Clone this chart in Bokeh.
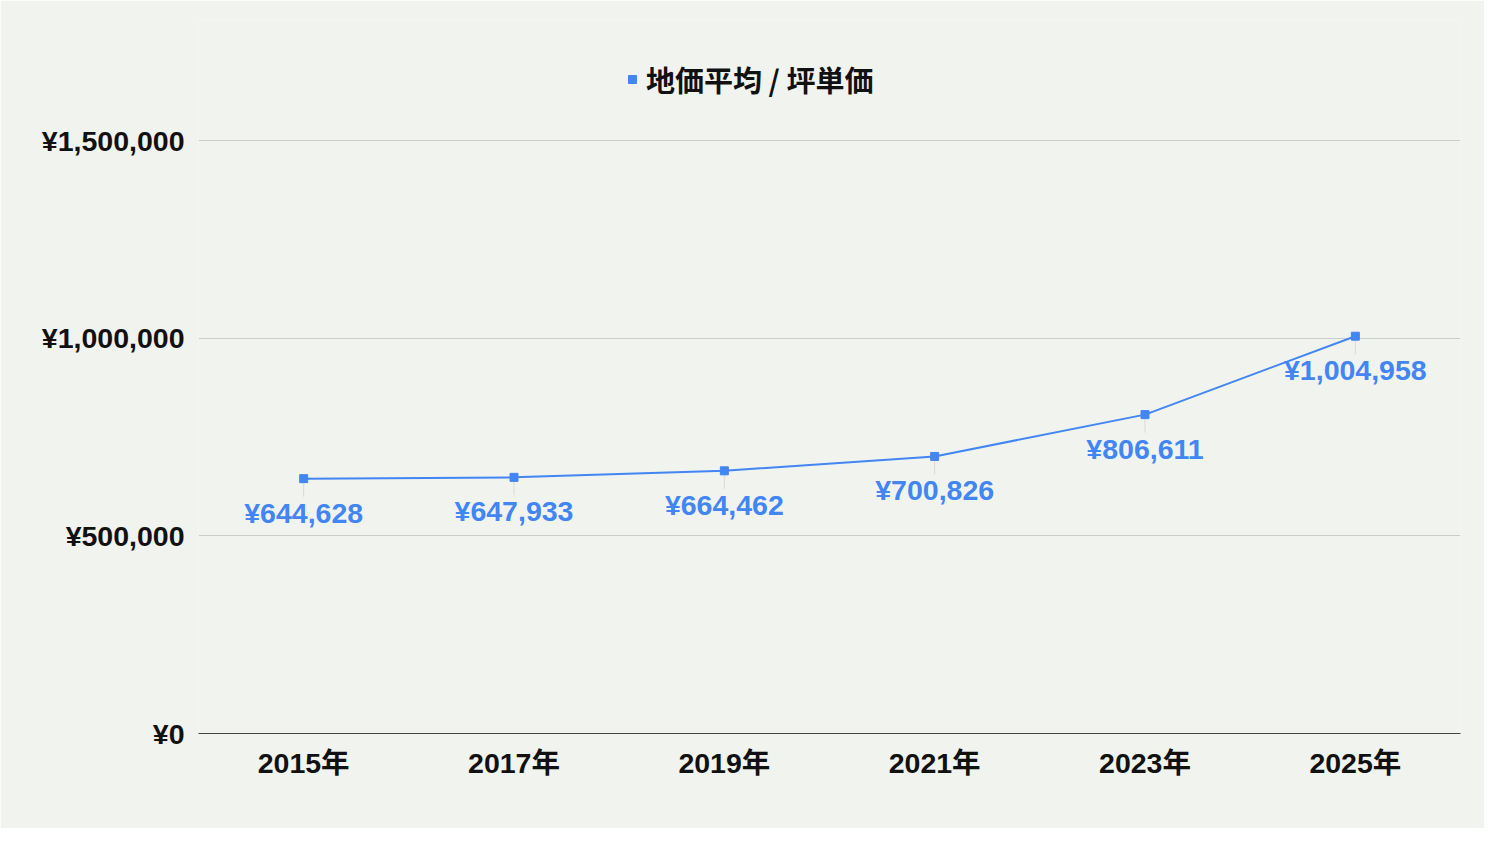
import math
from bokeh.plotting import figure
from bokeh.models import (ColumnDataSource, FactorRange, Range1d, FixedTicker,
                          Legend, LegendItem)
from bokeh.core.properties import value
from bokeh.embed import file_html
from bokeh.resources import INLINE

years = ["2015年", "2017年", "2019年", "2021年", "2023年", "2025年"]
prices = [644628, 647933, 664462, 700826, 806611, 1004958]
y_ticks = [0, 500000, 1000000, 1500000]
series_name = "地価平均 / 坪単価"

BG = "#F1F3EE"
BLUE = "#4285F4"
FONT = "'Liberation Sans', 'Noto Sans CJK JP'"

src = ColumnDataSource(dict(
    x=years,
    y=prices,
    label=[f"¥{v:,}" for v in prices],
))

# the frame reaches up to the legend row so the legend is not clipped;
# ¥1,500,000 still sits 120px below the frame top
y_top = 1500000 * 713 / 593

p = figure(width=1484, height=828, output_backend="svg", toolbar_location=None,
           x_range=FactorRange(*years), y_range=Range1d(0, y_top),
           min_border_left=198, min_border_right=24,
           min_border_top=20, min_border_bottom=95)
p.background_fill_color = BG
p.border_fill_color = BG
p.outline_line_color = None

# faint leader lines from points to labels
p.ray(x="x", y="y", source=src, length=18, length_units="screen",
      angle=-math.pi / 2, line_color="#d8dad5", line_width=1)

p.line(x="x", y="y", source=src, line_color=BLUE, line_width=2)
pts = p.scatter(x="x", y="y", source=src, marker="square", size=8,
                fill_color=BLUE, line_color=BLUE)

p.text(x="x", y="y", text="label", source=src, y_offset=34,
       text_align="center", text_baseline="middle",
       text_font=value(FONT), text_font_style="bold",
       text_font_size="28.5px", text_color=BLUE)

# axes
p.yaxis.ticker = FixedTicker(ticks=y_ticks)
p.yaxis.major_label_overrides = {t: f"¥{t:,}" for t in y_ticks}
p.yaxis.axis_line_color = None
p.yaxis.major_tick_line_color = None
p.yaxis.minor_tick_line_color = None
p.yaxis.major_label_standoff = 8
p.yaxis.major_label_text_font = FONT
p.yaxis.major_label_text_font_style = "bold"
p.yaxis.major_label_text_font_size = "28.5px"
p.yaxis.major_label_text_color = "#111111"

p.xaxis.axis_line_color = "#444444"
p.xaxis.axis_line_width = 1
p.xaxis.major_tick_line_color = None
p.xaxis.minor_tick_line_color = None
p.xaxis.major_label_standoff = 7
p.xaxis.major_label_text_font = FONT
p.xaxis.major_label_text_font_style = "bold"
p.xaxis.major_label_text_font_size = "28.5px"
p.xaxis.major_label_text_color = "#111111"

p.xgrid.grid_line_color = None
p.ygrid.grid_line_color = "#cccccc"
p.ygrid.grid_line_width = 1

legend = Legend(items=[LegendItem(label=series_name, renderers=[pts])],
                location=(424, 633), orientation="horizontal",
                background_fill_alpha=0, border_line_color=None,
                padding=0, margin=0, glyph_width=20, glyph_height=20,
                label_standoff=4, label_height=30,
                label_text_font="Noto Sans CJK JP",
                label_text_font_style="bold", label_text_font_size="29px",
                label_text_color="#111111")
p.add_layout(legend)

open("out.html", "w").write(file_html(p, INLINE))
